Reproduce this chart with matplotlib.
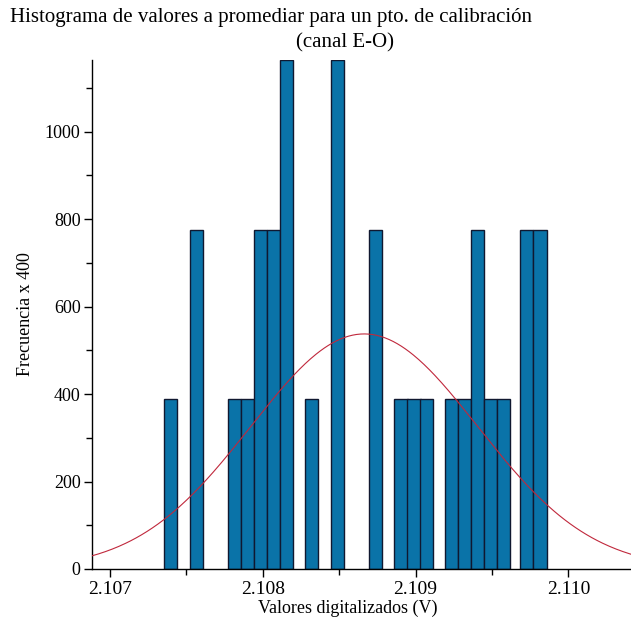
import numpy as np
import matplotlib
matplotlib.use("Agg")
import matplotlib.pyplot as plt
from matplotlib.ticker import MultipleLocator

# centros de las barras (V) y cuantas muestras hay en cada una
centros = [2.107398, 2.107567, 2.107817, 2.107902, 2.107987, 2.108072,
           2.108156, 2.108320, 2.108489, 2.108737, 2.108905, 2.108990,
           2.109070, 2.109235, 2.109321, 2.109406, 2.109489, 2.109573,
           2.109728, 2.109814]
cuentas = [1, 2, 1, 1, 2, 2, 3, 1, 3, 2, 1, 1, 1, 1, 1, 2, 1, 1, 2, 2]
ancho = 0.0000861
alto_unidad = 388.0   # altura de una muestra en el eje y

xticks = [2.107, 2.108, 2.109, 2.110]
yticks = [0, 200, 400, 600, 800, 1000]

plt.rcParams['font.family'] = ['Liberation Serif', 'DejaVu Serif']

fig = plt.figure(figsize=(6.31, 6.32), dpi=100)
ax = fig.add_axes([0.1453, 0.0997, 0.8547, 0.8054])

alturas = [c * alto_unidad for c in cuentas]
ax.bar(centros, alturas, width=ancho, color='#0a73a8', edgecolor='#101830',
       linewidth=1.0, zorder=2)

# normal ajustada con la media y desviacion de los datos
datos = np.repeat(centros, cuentas)
mu = datos.mean()
sigma = datos.std(ddof=1)
xs = np.linspace(2.10688, 2.11041, 400)
ys = np.exp(-0.5 * ((xs - mu) / sigma) ** 2) / (sigma * np.sqrt(2 * np.pi))
ax.plot(xs, ys, color='#c0283c', linewidth=0.8, zorder=3)

ax.set_xlim(2.10688, 2.11041)
ax.set_ylim(0, 3 * alto_unidad)
ax.set_xticks(xticks)
ax.set_xticklabels(['%.3f' % v for v in xticks])
ax.xaxis.set_minor_locator(MultipleLocator(0.0005))
ax.set_yticks(yticks)
ax.yaxis.set_minor_locator(MultipleLocator(100))

for s in ['top', 'right']:
    ax.spines[s].set_visible(False)
for s in ['left', 'bottom']:
    ax.spines[s].set_linewidth(1.0)
    ax.spines[s].set_color('black')

ax.tick_params(axis='both', which='major', direction='out', length=6,
               width=1, colors='black')
ax.tick_params(axis='both', which='minor', direction='out', length=4, width=1)
ax.tick_params(axis='x', which='major', pad=3, labelsize=14)
ax.tick_params(axis='y', which='major', pad=2, labelsize=13)

ax.set_xlabel('Valores digitalizados (V)', fontsize=13)
ax.xaxis.set_label_coords(0.475, -0.06)
ax.xaxis.label.set_va('top')
ax.set_ylabel('Frecuencia x 400', fontsize=13, labelpad=8)

fig.text(0.016, 0.972, 'Histograma de valores a promediar para un pto. de calibración',
         fontsize=15, ha='left', va='center')
fig.text(0.547, 0.932, '(canal E-O)', fontsize=15, ha='center', va='center')

fig.savefig('out.png', dpi=100)
